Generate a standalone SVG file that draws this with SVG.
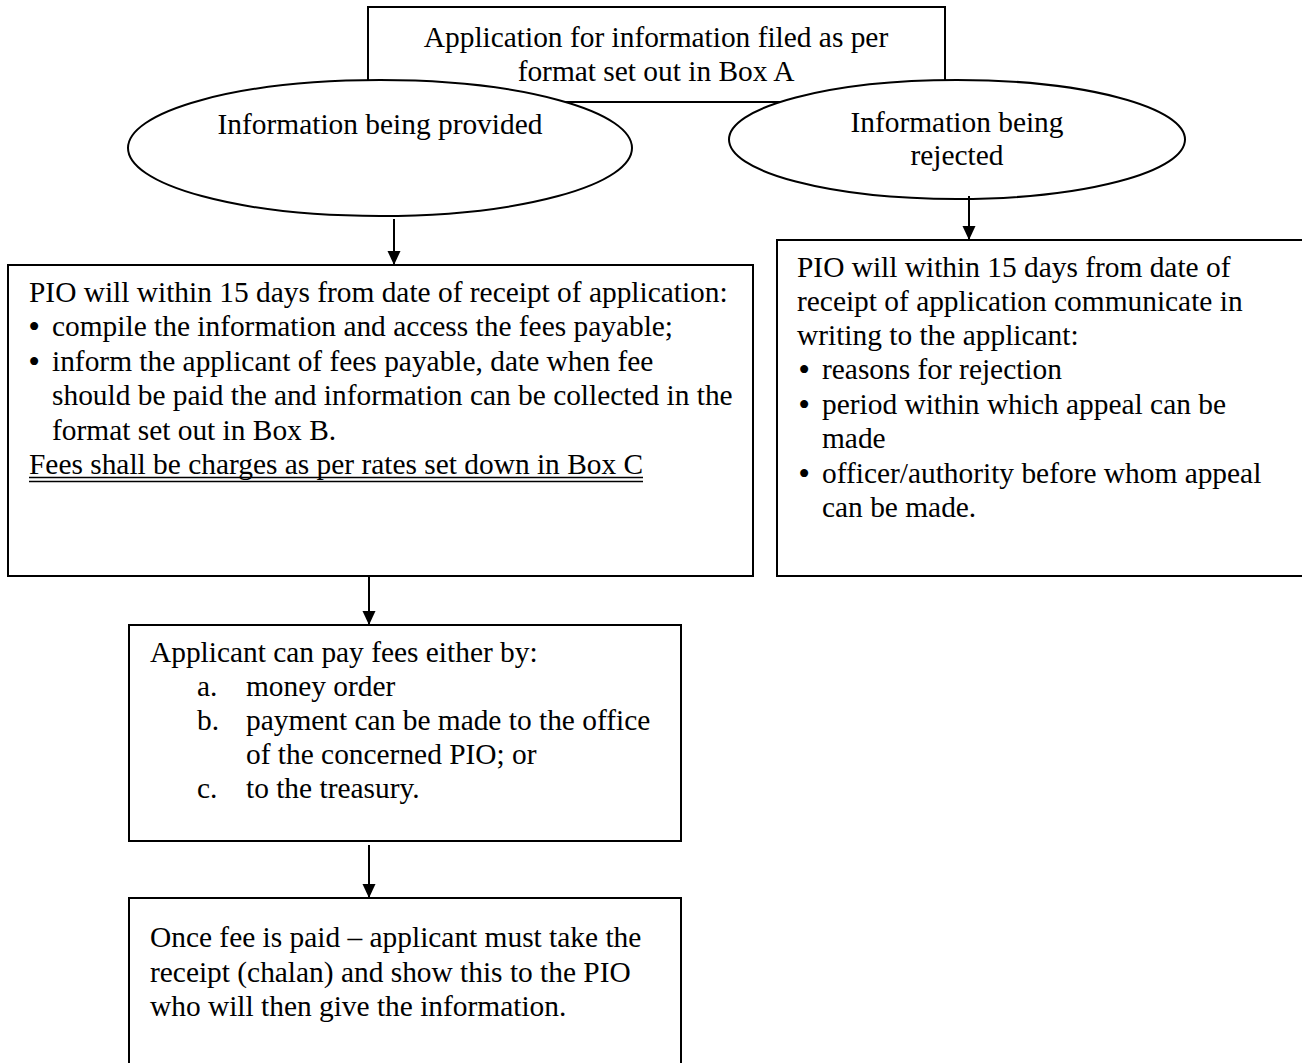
<svg xmlns="http://www.w3.org/2000/svg" width="1302" height="1063" viewBox="0 0 1302 1063">
<defs>
<marker id="ah" markerUnits="userSpaceOnUse" markerWidth="16" markerHeight="16" viewBox="0 0 16 16" refX="14" refY="8" orient="auto">
<path d="M0,1.5 L14,8 L0,14.5 Z" fill="#000"/>
</marker>
<style>
.box{fill:#fff;stroke:#000;stroke-width:2}
.t{font-family:"Liberation Serif","Times New Roman",serif;font-size:29.4px;fill:#000}
.b{font-family:"Liberation Serif","Times New Roman",serif;font-size:29.4px;font-weight:bold;fill:#000}
.c{text-anchor:middle}
.conn{stroke:#000;stroke-width:2;fill:none}
</style>
</defs>
<rect width="1302" height="1063" fill="#fff"/>
<g id="app-box">
<rect class="box" x="368" y="7" width="577" height="95"/>
<text class="t c" x="656" y="47">Application for information filed as per</text>
<text class="t c" x="656" y="81">format set out in Box A</text>
</g>
<g id="provided">
<ellipse class="box" cx="380" cy="148" rx="252" ry="68"/>
<text class="t c" x="380" y="134">Information being provided</text>
</g>
<g id="rejected">
<ellipse class="box" cx="957" cy="139.5" rx="228" ry="59.5"/>
<text class="t c" x="957" y="132">Information being</text>
<text class="t c" x="957" y="165">rejected</text>
</g>
<g id="connectors">
<line class="conn" x1="394" y1="219" x2="394" y2="265" marker-end="url(#ah)"/>
<line class="conn" x1="969" y1="196" x2="969" y2="240" marker-end="url(#ah)"/>
<line class="conn" x1="369" y1="576" x2="369" y2="625" marker-end="url(#ah)"/>
<line class="conn" x1="369" y1="845" x2="369" y2="898" marker-end="url(#ah)"/>
</g>
<g id="provided-box">
<rect class="box" x="8" y="265" width="745" height="311"/>
<text class="t" x="29" y="302">PIO will within 15 days from date of receipt of application:</text>
<text class="b" x="29" y="336">•</text>
<text class="t" x="52" y="336">compile the information and access the fees payable;</text>
<text class="b" x="29" y="371">•</text>
<text class="t" x="52" y="371">inform the applicant of fees payable, date when fee</text>
<text class="t" x="52" y="405">should be paid the and information can be collected in the</text>
<text class="t" x="52" y="440">format set out in Box B.</text>
<text class="t" x="29" y="474">Fees shall be charges as per rates set down in Box C</text>
<line x1="29" y1="477.5" x2="643" y2="477.5" stroke="#000" stroke-width="1.3"/>
<line x1="29" y1="481.5" x2="643" y2="481.5" stroke="#000" stroke-width="1.3"/>
</g>
<g id="rejected-box">
<rect class="box" x="777" y="240" width="533" height="336"/>
<text class="t" x="797" y="277">PIO will within 15 days from date of</text>
<text class="t" x="797" y="311">receipt of application communicate in</text>
<text class="t" x="797" y="345">writing to the applicant:</text>
<text class="b" x="799" y="379">•</text>
<text class="t" x="822" y="379">reasons for rejection</text>
<text class="b" x="799" y="414">•</text>
<text class="t" x="822" y="414">period within which appeal can be</text>
<text class="t" x="822" y="448">made</text>
<text class="b" x="799" y="483">•</text>
<text class="t" x="822" y="483">officer/authority before whom appeal</text>
<text class="t" x="822" y="517">can be made.</text>
</g>
<g id="payment-box">
<rect class="box" x="129" y="625" width="552" height="216"/>
<text class="t" x="150" y="662">Applicant can pay fees either by:</text>
<text class="t" x="197" y="696">a.</text>
<text class="t" x="246" y="696">money order</text>
<text class="t" x="197" y="730">b.</text>
<text class="t" x="246" y="730">payment can be made to the office</text>
<text class="t" x="246" y="764">of the concerned PIO; or</text>
<text class="t" x="197" y="798">c.</text>
<text class="t" x="246" y="798">to the treasury.</text>
</g>
<g id="receipt-box">
<rect class="box" x="129" y="898" width="552" height="175"/>
<text class="t" x="150" y="947">Once fee is paid – applicant must take the</text>
<text class="t" x="150" y="982">receipt (chalan) and show this to the PIO</text>
<text class="t" x="150" y="1016">who will then give the information.</text>
</g>
</svg>
